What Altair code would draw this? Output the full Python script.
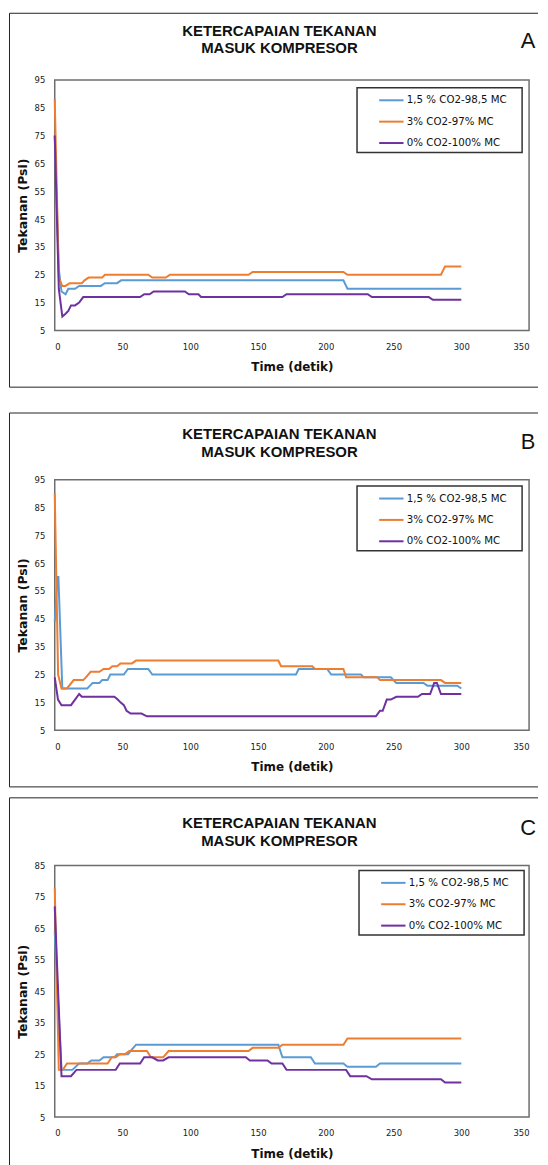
import altair as alt
import pandas as pd

# ---------------- data ----------------
S_BLUE = "1,5 % CO2-98,5 MC"
S_ORANGE = "3% CO2-97% MC"
S_PURPLE = "0% CO2-100% MC"
SERIES = [S_BLUE, S_ORANGE, S_PURPLE]
COLORS = ["#5B9BD5", "#ED7D31", "#7030A0"]

TITLE_LINES = ["KETERCAPAIAN TEKANAN", "MASUK KOMPRESOR"]
X_TITLE = "Time (detik)"
Y_TITLE = "Tekanan (Psi)"
X_TICKS = [0, 50, 100, 150, 200, 250, 300, 350]
AB_Y_TICKS = [5, 15, 25, 35, 45, 55, 65, 75, 85, 95]
C_Y_TICKS = [5, 15, 25, 35, 45, 55, 65, 75, 85]

# Panel A
A_blue_t = [0, 3, 5, 8, 10, 15, 18, 34, 37, 46, 49, 213, 216, 300]
A_blue_v = [75, 27, 19, 18, 20, 20, 21, 21, 22, 22, 23, 23, 20, 20]
A_orange_t = [0, 3, 5.5, 8, 11, 20, 22, 25, 35, 37, 69, 72, 82, 85, 143, 146, 213, 216, 285, 288, 300]
A_orange_v = [88, 24, 21, 21, 22, 22, 23, 24, 24, 25, 25, 24, 24, 25, 25, 26, 26, 25, 25, 28, 28]
A_purple_t = [0, 3, 5.6, 8, 10, 12, 15, 18, 21, 63, 66, 70, 73, 96, 99, 106, 108, 168, 171, 231, 234, 276, 279, 300]
A_purple_v = [75, 20, 10, 11, 12, 14, 14, 15, 17, 17, 18, 18, 19, 19, 18, 18, 17, 17, 18, 18, 17, 17, 16, 16]

# Panel B
B_blue_t = [0, 2, 2.7, 5.6, 24, 28, 33, 35, 39, 41, 51, 54, 69, 72, 178, 180, 201, 204, 226, 228, 248, 252, 272, 275, 297, 300]
B_blue_v = [44, 60, 60, 20, 20, 22, 22, 23, 23, 25, 25, 27, 27, 25, 25, 27, 27, 25, 25, 24, 24, 22, 22, 21, 21, 20]
B_orange_t = [0, 2.5, 5, 9, 14, 21, 23, 26.5, 33, 36, 40, 42.5, 46, 48.5, 57, 60, 165, 167, 190, 192, 213, 215, 238, 240, 285, 288, 300]
B_orange_v = [90, 25, 20, 20, 23, 23, 24, 26, 26, 27, 27, 28, 28, 29, 29, 30, 30, 28, 28, 27, 27, 24, 24, 23, 23, 22, 22]
B_purple_t = [0, 2.4, 5, 12, 15, 18, 20, 44, 46.5, 48.5, 51, 53, 56, 64, 68, 237, 240, 242, 245, 248, 252, 268, 271, 277, 280, 282, 285, 300]
B_purple_v = [24, 16, 14, 14, 16, 18, 17, 17, 16, 15, 14, 12, 11, 11, 10, 10, 12, 12, 16, 16, 17, 17, 18, 18, 22, 22, 18, 18]

# Panel C
C_blue_t = [0, 5, 13, 18, 24, 27, 33, 36, 44, 46, 54, 56, 60, 165, 168, 189, 192, 213, 216, 237, 240, 300]
C_blue_v = [64, 20, 20, 22, 22, 23, 23, 24, 24, 25, 25, 26, 28, 28, 24, 24, 22, 22, 21, 21, 22, 22]
C_orange_t = [0, 3, 6, 9, 39, 42, 45, 48, 52, 55, 68, 71, 80, 84, 143, 146, 165, 168, 213, 216, 300]
C_orange_v = [78, 20, 20, 22, 22, 24, 24, 25, 25, 26, 26, 24, 24, 26, 26, 27, 27, 28, 28, 30, 30]
C_purple_t = [0, 5, 12, 16, 45, 48, 63, 66, 72, 76, 80, 84, 141, 144, 157, 160, 168, 171, 215, 218, 230, 234, 285, 288, 300]
C_purple_v = [72, 18, 18, 20, 20, 22, 22, 24, 24, 23, 23, 24, 24, 23, 23, 22, 22, 20, 20, 18, 18, 17, 17, 16, 16]


def make_df(blue, orange, purple):
    rows = []
    for name, (ts, vs) in zip(SERIES, [blue, orange, purple]):
        for t, v in zip(ts, vs):
            rows.append({"t": t, "v": v, "s": name})
    return pd.DataFrame(rows)


ONE = pd.DataFrame({"k": [0]})
PLOT_W = 477


def rule(**enc):
    return alt.Chart(ONE).mark_rule(stroke="#222", strokeWidth=1).encode(**enc)


def text(txt, x, y, size, weight="normal"):
    return alt.Chart(ONE).mark_text(text=txt, font="Liberation Sans", fontSize=size,
                                    fontWeight=weight, align="center", baseline="middle",
                                    color="#111").encode(x=alt.value(x), y=alt.value(y))


def panel(letter, df, yticks, h, top, title_y, legend_y, legend_x, letter_y):
    lines = alt.Chart(df).mark_line(strokeWidth=2, clip=False).encode(
        x=alt.X("t:Q",
                scale=alt.Scale(domain=[0, 350], nice=False, zero=False),
                axis=alt.Axis(values=X_TICKS, title=X_TITLE, titleFontSize=12,
                              labelPadding=12, titlePadding=11)),
        y=alt.Y("v:Q",
                scale=alt.Scale(domain=[yticks[0], yticks[-1]], nice=False, zero=False),
                axis=alt.Axis(values=yticks, title=Y_TITLE, titleFontSize=12.5,
                              labelPadding=10, titlePadding=5)),
        color=alt.Color("s:N",
                        scale=alt.Scale(domain=SERIES, range=COLORS),
                        legend=alt.Legend(title=None, orient="none", legendX=legend_x,
                                          legendY=legend_y,
                                          symbolType="stroke", symbolSize=600,
                                          symbolStrokeWidth=2, labelFont="DejaVu Sans",
                                          labelFontSize=10.3, labelColor="#111",
                                          labelOffset=2, rowPadding=2.5, padding=0)),
        order=alt.Order("t:Q"),
    )
    bot = top + 376
    top_r = rule(x=alt.value(-45.5), x2=alt.value(486), y=alt.value(top))
    bottom_r = rule(x=alt.value(-45.5), x2=alt.value(486), y=alt.value(bot))
    left_r = rule(x=alt.value(-45.5), y=alt.value(top), y2=alt.value(bot))
    legend_box = alt.Chart(ONE).mark_rect(fillOpacity=0, stroke="#333", strokeWidth=1.5).encode(
        x=alt.value(legend_x - 21), x2=alt.value(legend_x + 145),
        y=alt.value(legend_y + 1), y2=alt.value(legend_y + 66))
    t1 = text(TITLE_LINES[0], 226, title_y, 15, "bold")
    t2 = text(TITLE_LINES[1], 226, title_y + 17.5, 15, "bold")
    let = text(letter, 476, letter_y, 22)
    return alt.layer(top_r, bottom_r, left_r, legend_box, lines, t1, t2, let).properties(
        width=PLOT_W, height=h)


A = panel("A", make_df((A_blue_t, A_blue_v), (A_orange_t, A_orange_v), (A_purple_t, A_purple_v)),
          AB_Y_TICKS, 252, -67, -49.5, 7, 325, -39)
B = panel("B", make_df((B_blue_t, B_blue_v), (B_orange_t, B_orange_v), (B_purple_t, B_purple_v)),
          AB_Y_TICKS, 252, -67, -45.5, 5.5, 325, -38)
C = panel("C", make_df((C_blue_t, C_blue_v), (C_orange_t, C_orange_v), (C_purple_t, C_purple_v)),
          C_Y_TICKS, 253, -68, -42.5, 4, 327, -38)

inner = alt.vconcat(B, C, spacing=7).resolve_scale(color="independent").resolve_legend(color="independent")
chart = alt.vconcat(A, inner, spacing=22).resolve_scale(color="independent").resolve_legend(
    color="independent"
).properties(
    padding={"left": 0, "top": 0, "right": 0, "bottom": 0}
).configure_view(
    stroke="#6e6e6e", strokeWidth=1.5
).configure_axis(
    labelFont="DejaVu Sans", labelFontSize=8.5, labelColor="#222",
    ticks=False, domain=False, grid=False,
    titleFont="DejaVu Sans", titleFontWeight="bold", titleColor="#111",
)

chart.save("out.html", embed_options={"renderer": "svg", "actions": False})
